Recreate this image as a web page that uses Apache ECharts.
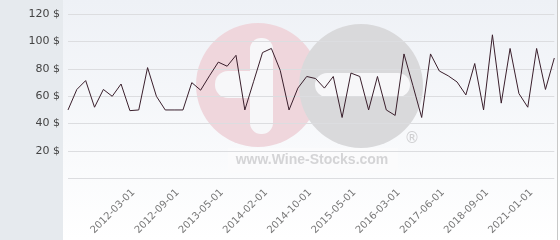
<!DOCTYPE html>
<html>
<head>
<meta charset="utf-8">
<script src="https://cdn.jsdelivr.net/npm/echarts@6/dist/echarts.min.js"></script>
<style>html,body{margin:0;padding:0;background:#fff}#c{width:560px;height:240px}</style>
</head>
<body>
<div id="c"></div>
<script>
const categories = [
  '2011-06-01','2011-07-01','2011-08-01','2011-10-01','2011-11-01','2012-01-01','2012-02-01',
  '2012-03-01','2012-04-01','2012-05-01','2012-06-01','2012-08-01',
  '2012-09-01','2012-10-01','2012-12-01','2013-02-01','2013-03-01',
  '2013-05-01','2013-07-01','2013-09-01','2013-10-01','2013-12-01',
  '2014-02-01','2014-03-01','2014-05-01','2014-06-01','2014-08-01',
  '2014-10-01','2014-11-01','2015-01-01','2015-02-01','2015-04-01',
  '2015-05-01','2015-06-01','2015-09-01','2015-11-01','2016-01-01',
  '2016-03-01','2016-05-01','2016-08-01','2016-11-01','2017-02-01',
  '2017-06-01','2017-09-01','2017-12-01','2018-03-01','2018-06-01',
  '2018-09-01','2019-01-01','2019-06-01','2019-12-01','2020-06-01',
  '2021-01-01','2021-04-01','2021-08-01','2021-12-01'
];
const prices = [
  50,65,71.5,52,65,60,69,49.5,50,81,
  60,50,50,50,70,64.5,75,85,82,90,
  50,71,92,95,79,50,66,74.5,73,66,
  74.5,44.5,77,74.5,50,74.5,50,46,91,68,
  44.5,91,78.5,75,70.5,61,84,50,105,55,
  95,62,52,95,65,88
];
const yTicks = [0,20,40,60,80,100,120];
const labelStart = 7;
const labelStep = 5;

const chart = echarts.init(document.getElementById('c'), null, {renderer:'canvas'});
chart.setOption({
  animation:false,
  backgroundColor: new echarts.graphic.LinearGradient(0,0,0,1,[
    {offset:0,color:'#eef1f6'},{offset:1,color:'#ffffff'}
  ]),
  graphic:[
    {type:'rect', z:-10, shape:{x:0,y:0,width:63,height:240}, style:{fill:'#e6eaee'}},
    {type:'rect', z:-10, shape:{x:557,y:0,width:1,height:240}, style:{fill:'#c8c8c8'}},
    {type:'rect', z:-10, shape:{x:558,y:0,width:2,height:240}, style:{fill:'#ffffff'}},
    // watermark
    {type:'circle', z:-9, shape:{cx:258,cy:85,r:62}, style:{fill:'#efd6dc'}},
    {type:'circle', z:-9, shape:{cx:361,cy:86,r:62}, style:{fill:'#d9d9db'}},
    {type:'rect', z:-8, shape:{x:250,y:38,width:23,height:96,r:11}, style:{fill:'#f7f7f9'}},
    {type:'rect', z:-8, shape:{x:215,y:71,width:47,height:27,r:13}, style:{fill:'#f7f7f9'}},
    {type:'rect', z:-8, shape:{x:315,y:73,width:95,height:24,r:12}, style:{fill:'#f7f7f9'}},
    {type:'rect', z:-9, shape:{x:228,y:148,width:170,height:25}, style:{fill:'#fbfbfc'}},
    {type:'text', z:-8, x:312, y:160, style:{text:'www.Wine-Stocks.com', fill:'#d4d4d6', font:'bold 14px "Liberation Sans"', align:'center', verticalAlign:'middle'}},
    {type:'text', z:-8, x:412, y:139, style:{text:'®', fill:'#cfcfd1', font:'15px "DejaVu Sans"', align:'center', verticalAlign:'middle'}}
  ],
  grid:{left:68, right:5.7, top:14.3, bottom:61.7, containLabel:false},
  xAxis:{
    type:'category', data:categories, boundaryGap:false,
    axisLine:{show:false}, axisTick:{show:false},
    splitLine:{show:false},
    axisLabel:{
      rotate:45, margin:9, color:'#777', fontSize:10, fontFamily:'DejaVu Sans',
      verticalAlign:'top',
      interval:(i)=> i>=labelStart && (i-labelStart)%labelStep===0
    }
  },
  yAxis:{
    type:'value', min:yTicks[0], max:yTicks[yTicks.length-1], interval:20,
    axisLine:{show:false}, axisTick:{show:false},
    splitLine:{lineStyle:{color:'#dcdde0', width:1}},
    axisLabel:{
      color:'#444', fontSize:11, fontFamily:'DejaVu Sans', margin:8,
      formatter:(v)=> v===0 ? '' : v+' $'
    }
  },
  series:[{
    type:'line', data:prices, symbol:'none', smooth:false,
    lineStyle:{color:'#3a1f2c', width:1}
  }]
});
</script>
</body>
</html>
